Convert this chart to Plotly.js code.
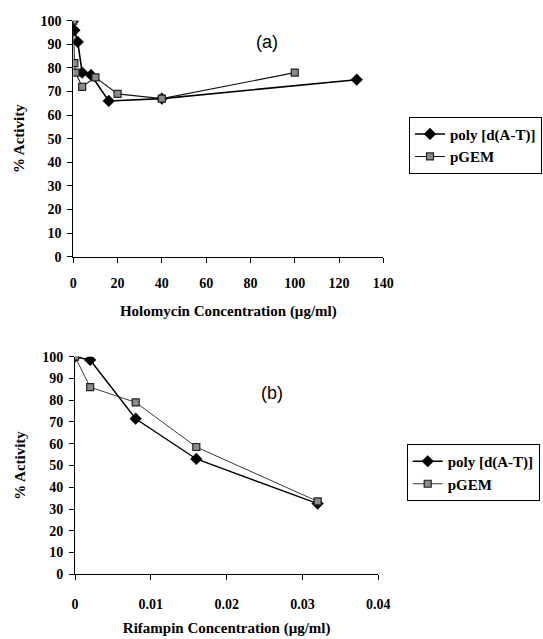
<!DOCTYPE html>
<html>
<head>
<meta charset="utf-8">
<script src="https://cdn.plot.ly/plotly-3.0.1.min.js"></script>
<style>html,body{margin:0;padding:0;background:#fff;}#chart{width:543px;height:639px;}</style>
</head>
<body>
<div id="chart"></div>
<script>
// Panel (a): Holomycin
const holoPolyX = [0, 0.5, 2, 4, 8, 16, 40, 128];
const holoPolyY = [100, 96, 91, 78, 77, 66, 67, 75];
const holoPgemX = [0, 0.5, 1, 4, 10, 20, 40, 100];
const holoPgemY = [100, 82, 78, 72, 76, 69, 67, 78];
// Panel (b): Rifampin
const rifPolyX = [0, 0.002, 0.008, 0.016, 0.032];
const rifPolyY = [100, 98.5, 71.5, 53, 32.5];
const rifPgemX = [0, 0.002, 0.008, 0.016, 0.032];
const rifPgemY = [100, 86, 79, 58.5, 33.5];
const seriesNames = ["poly [d(A-T)]", "pGEM"];
const yTicks = [0, 10, 20, 30, 40, 50, 60, 70, 80, 90, 100];
const xTicksA = [0, 20, 40, 60, 80, 100, 120, 140];
const xTicksB = [0, 0.01, 0.02, 0.03, 0.04];
const xTickTextB = ["0", "0.01", "0.02", "0.03", "0.04"];

const serif = "Liberation Serif";
const diamond = {symbol: "diamond", size: 9, color: "#000", line: {color: "#000", width: 0.5}};
const square = {symbol: "square", size: 7, color: "#8a8a8a", line: {color: "#222", width: 1.2}};

const traces = [
  {x: holoPolyX, y: holoPolyY, name: "<b>" + seriesNames[0] + "</b>", mode: "lines+markers", xaxis: "x", yaxis: "y", legend: "legend",
   line: {color: "#000", width: 1.6}, marker: diamond},
  {x: holoPgemX, y: holoPgemY, name: "<b>" + seriesNames[1] + "</b>", mode: "lines+markers", xaxis: "x", yaxis: "y", legend: "legend",
   line: {color: "#111", width: 1.1}, marker: square},
  {x: rifPolyX, y: rifPolyY, name: "<b>" + seriesNames[0] + "</b>", mode: "lines+markers", xaxis: "x2", yaxis: "y2", legend: "legend2",
   line: {color: "#000", width: 1.4}, marker: diamond},
  {x: rifPgemX, y: rifPgemY, name: "<b>" + seriesNames[1] + "</b>", mode: "lines+markers", xaxis: "x2", yaxis: "y2", legend: "legend2",
   line: {color: "#222", width: 0.9}, marker: square}
];

function tf() { return {family: serif, size: 14, color: "#000", weight: "bold"}; }
function ttf() { return {family: serif, size: 15, color: "#000", weight: "bold"}; }

function yAxis(domain, anchor) {
  return {domain: domain, anchor: anchor, range: [0, 100], tickmode: "array", tickvals: yTicks,
    ticktext: yTicks.map(v => "<b>" + v + "</b>"),
    ticks: "outside", ticklen: 5, ticklabelstandoff: 3,
    tickcolor: "#000", showline: true, linecolor: "#000", linewidth: 1, showgrid: false, zeroline: false,
    tickfont: tf(), title: {text: "<b>% Activity</b>", font: ttf(), standoff: 12}};
}

const layout = {
  width: 543, height: 639,
  margin: {l: 0, r: 0, t: 0, b: 0},
  paper_bgcolor: "#fff", plot_bgcolor: "#fff",
  font: {family: serif, size: 14, color: "#000"},
  showlegend: true,
  xaxis: {domain: [73.3/543, 383.3/543], anchor: "y", range: [0, 140], tickmode: "array", tickvals: xTicksA,
    ticktext: xTicksA.map(v => "<b>" + v + "</b>"),
    ticks: "outside", ticklen: 5, ticklabelstandoff: 8,
    tickcolor: "#000", showline: true, linecolor: "#000", linewidth: 1, showgrid: false, zeroline: false,
    tickfont: tf(), title: {text: "<b>Holomycin Concentration (μg/ml)</b>", font: ttf(), standoff: 15}},
  yaxis: yAxis([1 - 256.7/639, 1 - 20.7/639], "x"),
  xaxis2: {domain: [75/543, 378.3/543], anchor: "y2", range: [0, 0.04], tickmode: "array", tickvals: xTicksB,
    ticktext: xTickTextB.map(v => "<b>" + v + "</b>"),
    ticks: "outside", ticklen: 5, ticklabelstandoff: 12,
    tickcolor: "#000", showline: true, linecolor: "#000", linewidth: 1, showgrid: false, zeroline: false,
    tickfont: tf(), title: {text: "<b>Rifampin Concentration (μg/ml)</b>", font: ttf(), standoff: 11}},
  yaxis2: yAxis([1 - 574.3/639, 1 - 356.7/639], "x2"),
  legend: {x: 409/543, y: 1 - 116.7/639, xanchor: "left", yanchor: "top", bgcolor: "#fff",
    bordercolor: "#000", borderwidth: 1, font: {family: serif, size: 15, color: "#000"},
    tracegroupgap: 0, itemwidth: 30},
  legend2: {x: 406.7/543, y: 1 - 444/639, xanchor: "left", yanchor: "top", bgcolor: "#fff",
    bordercolor: "#000", borderwidth: 1, font: {family: serif, size: 15, color: "#000"},
    tracegroupgap: 0, itemwidth: 30},
  annotations: [
    {text: "(a)", xref: "paper", yref: "paper", x: 267/543, y: 1 - 42/639, xanchor: "center", yanchor: "middle", showarrow: false,
     font: {family: "Liberation Sans", size: 18, color: "#000"}},
    {text: "(b)", xref: "paper", yref: "paper", x: 272/543, y: 1 - 393/639, xanchor: "center", yanchor: "middle", showarrow: false,
     font: {family: "Liberation Sans", size: 18, color: "#000"}}
  ]
};

Plotly.newPlot("chart", traces, layout, {displayModeBar: false, staticPlot: true});
</script>
</body>
</html>
